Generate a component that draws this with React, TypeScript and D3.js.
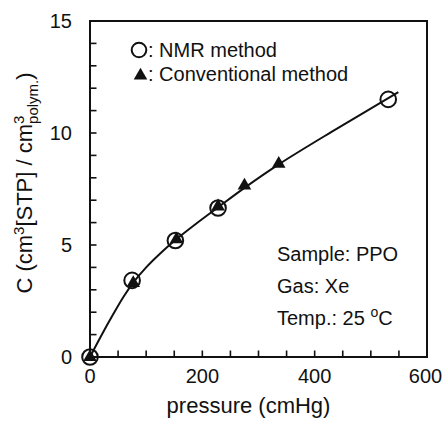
import React from "react";
import * as d3 from "d3";

// data
const nmrPressure = [0, 75, 152, 228, 531];
const nmrC = [0, 3.42, 5.2, 6.65, 11.5];
const convPressure = [0, 77, 154, 228, 275, 336];
const convC = [0, 3.3, 5.25, 6.72, 7.65, 8.62];
// fitted sorption curve
const curveP = [0, 20, 40, 60, 77, 100, 125, 152, 190, 228, 275, 336, 430, 549];
const curveC = [0, 0.95, 1.85, 2.7, 3.32, 4.0, 4.62, 5.22, 5.97, 6.68, 7.55, 8.6, 10.05, 11.82];

const xTicks = [0, 200, 400, 600];
const yTicks = [0, 5, 10, 15];
const xMinor = d3.range(0, 601, 50);
const yMinor = d3.range(0, 16, 1);
const notes = ["Sample: PPO", "Gas: Xe"];

const W = 442;
const H = 421;
const margin = { top: 21, right: 15, bottom: 64, left: 90 };
const font = "'Liberation Sans', Arial, sans-serif";

const App = () => {
  const x = d3.scaleLinear().domain([0, 600]).range([margin.left, W - margin.right]);
  const y = d3.scaleLinear().domain([0, 15]).range([H - margin.bottom, margin.top]);
  const x0 = x(0);
  const y0 = y(0);
  const tick = 6.5;

  const line = d3
    .line<number>()
    .x((d, i) => x(curveP[i]))
    .y((d) => y(d))
    .curve(d3.curveCatmullRom.alpha(0.5));

  const tri = d3.symbol().type(d3.symbolTriangle).size(80)();

  return (
    <svg width={W} height={H} style={{ position: "absolute", left: 0, top: 0, background: "#fff" }} fontFamily={font}>
      {/* ticks (inward) */}
      {xMinor.map((t) => (
        <line key={"xt" + t} x1={x(t)} x2={x(t)} y1={y0} y2={y0 - tick} stroke="#111" strokeWidth={1.6} />
      ))}
      {yMinor.map((t) => (
        <line key={"yt" + t} x1={x0} x2={x0 + tick} y1={y(t)} y2={y(t)} stroke="#111" strokeWidth={1.6} />
      ))}
      <rect x={x0} y={margin.top} width={x(600) - x0} height={y0 - margin.top} fill="none" stroke="#111" strokeWidth={2} />

      {/* tick labels */}
      {xTicks.map((t) => (
        <text key={"xl" + t} x={Math.min(x(t), W - 16.5)} y={y0 + 26} textAnchor="middle" fontSize={20} fill="#111">
          {t}
        </text>
      ))}
      {yTicks.map((t) => (
        <text key={"yl" + t} x={x0 - 18} y={y(t) + 7} textAnchor="end" fontSize={20} fill="#111">
          {t}
        </text>
      ))}

      {/* axis titles */}
      <text x={(x0 + x(600)) / 2 - 10} y={413} textAnchor="middle" fontSize={22} fill="#111">
        pressure (cmHg)
      </text>
      <text transform={`translate(32, 183) rotate(-90)`} textAnchor="middle" fontSize={22} fill="#111">
        C (cm
        <tspan fontSize={15} dy={-8}>3</tspan>
        <tspan dy={8}>[STP] / cm</tspan>
        <tspan fontSize={15} dy={-8}>3</tspan>
        <tspan fontSize={15} dx={-8.3} dy={14}>polym.</tspan>
        <tspan dy={-6}>)</tspan>
      </text>

      {/* curve */}
      <path d={line(curveC) || ""} fill="none" stroke="#111" strokeWidth={2} />

      {/* NMR circles */}
      {nmrPressure.map((p, i) => (
        <circle key={"c" + i} cx={x(p)} cy={y(nmrC[i])} r={7.8} fill="none" stroke="#111" strokeWidth={2} />
      ))}
      {/* conventional triangles */}
      {convPressure.map((p, i) => (
        <path key={"t" + i} d={tri || ""} transform={`translate(${x(p)},${y(convC[i])})`} fill="#111" />
      ))}

      {/* legend */}
      <circle cx={139} cy={50} r={7.3} fill="none" stroke="#111" strokeWidth={2} />
      <text x={148} y={57} fontSize={20} fill="#111">: NMR method</text>
      <path d={tri || ""} transform="translate(140.5,75.5)" fill="#111" />
      <text x={148} y={81} fontSize={20} fill="#111">: Conventional method</text>

      {/* annotation */}
      {notes.map((n, i) => (
        <text key={n} x={277} y={261 + i * 32} fontSize={20} fill="#111">
          {n}
        </text>
      ))}
      <text x={277} y={325} fontSize={20} fill="#111">
        Temp.: 25 <tspan fontSize={14} dy={-8}>o</tspan>
        <tspan dy={8}>C</tspan>
      </text>
    </svg>
  );
};

export default App;
